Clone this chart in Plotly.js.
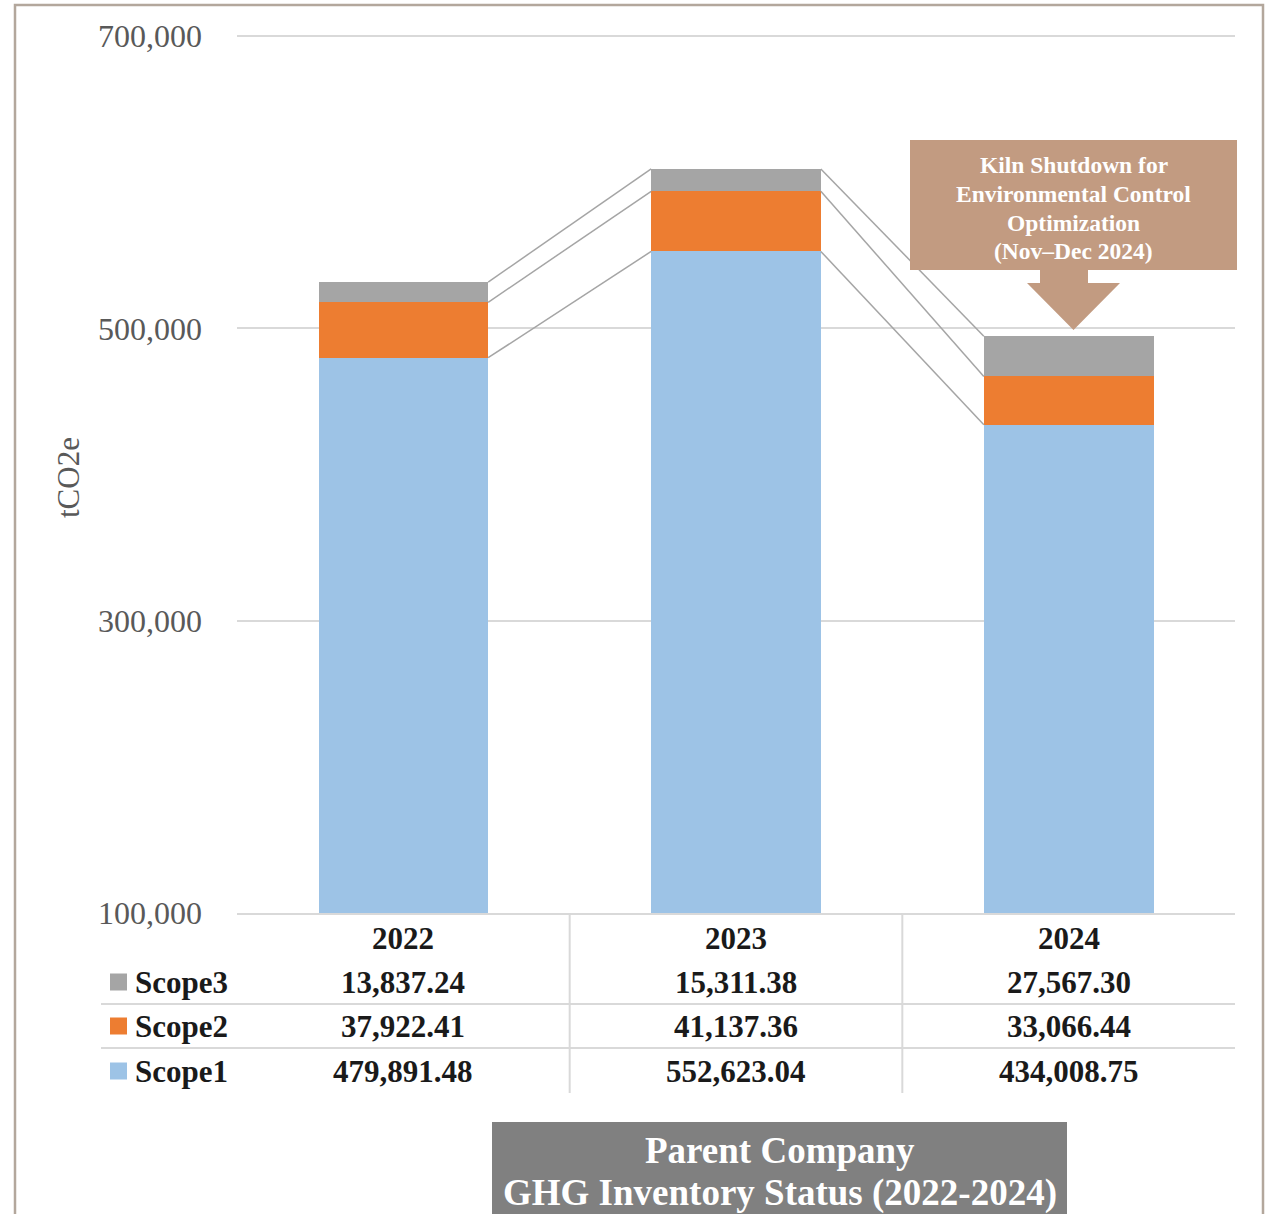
<!DOCTYPE html>
<html>
<head>
<meta charset="utf-8">
<script src="https://cdn.plot.ly/plotly-3.0.1.min.js"></script>
<style>html,body{margin:0;padding:0;background:#fff;}#chart{width:1276px;height:1214px;}</style>
</head>
<body>
<div id="chart"></div>
<script>
// ---- data ----
const years = ['2022', '2023', '2024'];
const scope1 = [479891.48, 552623.04, 434008.75];
const scope2 = [37922.41, 41137.36, 33066.44];
const scope3 = [13837.24, 15311.38, 27567.30];
const seriesNames = ['Scope1', 'Scope2', 'Scope3'];
const yTicks = [100000, 300000, 500000, 700000];
const axisTitle = 'tCO2e';
const noteLines = ['Kiln Shutdown for', 'Environmental Control', 'Optimization', '(Nov\u2013Dec 2024)'];
const titleLines = ['Parent Company', 'GHG Inventory Status (2022-2024)'];

// ---- styles / geometry ----
const colors = ['#9DC3E6', '#ED7D31', '#A5A5A5'];
const FONT = 'Liberation Serif, Times New Roman, serif';
const W = 1276, H = 1214;
const L = 237, R = 1235, T = 36, B = 913;
const px2x = p => (p - L) / (R - L);
const px2y = p => (B - p) / (B - T);
const barW = 0.51;

const xs = years.map((_, i) => i);
const series = [scope1, scope2, scope3];

const traces = series.map((vals, k) => ({
  type: 'bar', x: xs, y: vals, name: seriesNames[k], width: barW,
  marker: {color: colors[k], line: {width: 0}}, hoverinfo: 'y+name'
}));

// cumulative tops for connector lines
const cum = [];
let run = years.map(() => 0);
series.forEach(vals => { run = run.map((v, i) => v + vals[i]); cum.push(run.slice()); });
cum.forEach(level => {
  const cx = [], cy = [];
  for (let i = 0; i < years.length - 1; i++) {
    cx.push(i + barW / 2, i + 1 - barW / 2, null);
    cy.push(level[i], level[i + 1], null);
  }
  traces.push({type: 'scatter', mode: 'lines', x: cx, y: cy, line: {color: '#A5A5A5', width: 1.5},
    hoverinfo: 'skip', showlegend: false});
});

const fmt = v => v.toLocaleString('en-US', {minimumFractionDigits: 2, maximumFractionDigits: 2});

const shapes = [];
const annotations = [];
const lineCol = '#D9D9D9';

// outer border
shapes.push({type: 'rect', xref: 'paper', yref: 'paper', x0: px2x(15), x1: px2x(1263), y0: px2y(1240), y1: px2y(5),
  line: {color: '#B3A79C', width: 2.5}, layer: 'below'});

// top gridline (at the upper edge of the range)
shapes.push({type: 'line', xref: 'paper', yref: 'paper', x0: 0, x1: 1, y0: 1, y1: 1,
  line: {color: lineCol, width: 2}, layer: 'below'});

// table lines
[1004, 1048].forEach(py => shapes.push({type: 'line', xref: 'paper', yref: 'paper', x0: px2x(101), x1: 1, y0: px2y(py), y1: px2y(py),
  line: {color: lineCol, width: 2}}));
for (let i = 0; i < years.length - 1; i++) {
  shapes.push({type: 'line', xref: 'x', yref: 'paper', x0: i + 0.5, x1: i + 0.5, y0: 0, y1: px2y(1093), line: {color: lineCol, width: 2}});
}

// table text
const rowY = {head: 938, 2: 982, 1: 1026, 0: 1071};
const tFont = {family: FONT, size: 31, color: '#1a1a1a', weight: 'bold'};
years.forEach((yr, i) => {
  annotations.push({xref: 'x', yref: 'paper', x: i, y: px2y(rowY.head), text: '<b>' + yr + '</b>', showarrow: false, font: tFont, xanchor: 'center', yanchor: 'middle'});
  series.forEach((vals, k) => {
    annotations.push({xref: 'x', yref: 'paper', x: i, y: px2y(rowY[k]), text: '<b>' + fmt(vals[i]) + '</b>', showarrow: false, font: tFont, xanchor: 'center', yanchor: 'middle'});
  });
});
series.forEach((vals, k) => {
  const cy = rowY[k];
  shapes.push({type: 'rect', xref: 'paper', yref: 'paper', x0: px2x(110), x1: px2x(127), y0: px2y(cy + 8.5), y1: px2y(cy - 8.5),
    fillcolor: colors[k], line: {width: 0}});
  annotations.push({xref: 'paper', yref: 'paper', x: px2x(133), y: px2y(cy), text: '<b>' + seriesNames[k] + '</b>', showarrow: false,
    font: tFont, xanchor: 'left', yanchor: 'middle'});
});

// y axis title
annotations.push({xref: 'paper', yref: 'paper', x: px2x(68), y: px2y(478), text: axisTitle, textangle: -90, showarrow: false,
  font: {family: FONT, size: 31, color: '#595959'}, xanchor: 'center', yanchor: 'middle'});

// note box with arrow
const noteCol = '#C29B81';
shapes.push({type: 'rect', xref: 'paper', yref: 'paper', x0: px2x(910), x1: px2x(1237), y0: px2y(270), y1: px2y(140),
  fillcolor: noteCol, line: {width: 0}});
const ap = [[1040, 269], [1088, 269], [1088, 283], [1120, 283], [1073.5, 330], [1027, 283], [1040, 283]];
shapes.push({type: 'path', xref: 'paper', yref: 'paper',
  path: 'M ' + ap.map(p => px2x(p[0]) + ',' + px2y(p[1])).join(' L ') + ' Z', fillcolor: noteCol, line: {width: 0}});
const noteY = [165, 194, 223, 251];
noteLines.forEach((t, j) => annotations.push({xref: 'paper', yref: 'paper', x: px2x(1073.5), y: px2y(noteY[j]), text: '<b>' + t + '</b>',
  showarrow: false, font: {family: FONT, size: 23.5, color: '#ffffff'}, xanchor: 'center', yanchor: 'middle'}));

// title box
shapes.push({type: 'rect', xref: 'paper', yref: 'paper', x0: px2x(492), x1: px2x(1067), y0: px2y(1240), y1: px2y(1122),
  fillcolor: '#808080', line: {width: 0}});
const titleY = [1150, 1193];
titleLines.forEach((t, j) => annotations.push({xref: 'paper', yref: 'paper', x: px2x(779.5), y: px2y(titleY[j]), text: '<b>' + t + '</b>',
  showarrow: false, font: {family: FONT, size: 37, color: '#ffffff'}, xanchor: 'center', yanchor: 'middle'}));

const layout = {
  width: W, height: H,
  margin: {l: L, r: W - R, t: T, b: H - B, pad: 0},
  paper_bgcolor: '#ffffff', plot_bgcolor: '#ffffff',
  showlegend: false, barmode: 'stack', bargap: 0,
  font: {family: FONT},
  xaxis: {range: [-0.5, years.length - 0.5], showticklabels: false, showgrid: false, zeroline: false,
    showline: true, linecolor: lineCol, linewidth: 2, fixedrange: true},
  yaxis: {range: [yTicks[0], yTicks[yTicks.length - 1]], tickvals: yTicks, tickformat: ',', showgrid: true,
    gridcolor: lineCol, gridwidth: 2, zeroline: false, showline: false, ticks: '',
    ticklabelstandoff: 34, tickfont: {family: FONT, size: 32, color: '#595959'}, fixedrange: true},
  shapes: shapes, annotations: annotations
};

Plotly.newPlot('chart', traces, layout, {displayModeBar: false, staticPlot: true});
</script>
</body>
</html>
